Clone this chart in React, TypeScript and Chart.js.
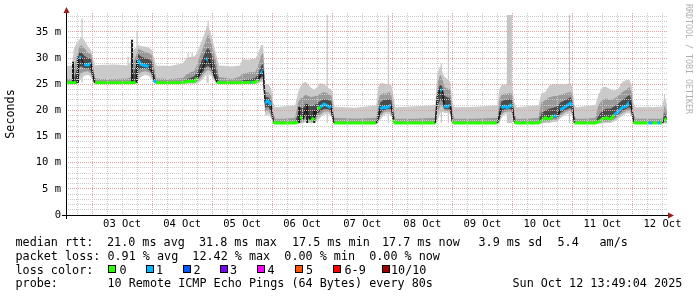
import React, { useEffect, useRef } from 'react';
import { Chart, registerables } from 'chart.js';

Chart.register(...registerables);

// x = hours since 02 Oct 00:00 ; window ends 12 Oct 13:49
const X_MIN = 13.6;
const X_MAX = 253.8;
const Y_MAX = 38.63;

const DAY_LABELS = ['03 Oct', '04 Oct', '05 Oct', '06 Oct', '07 Oct', '08 Oct', '09 Oct', '10 Oct', '11 Oct', '12 Oct'];

const T = [
  13.6, 16.0, 16.8, 18.0, 18.8, 19.6, 20.8, 22.4, 23.6, 24.4,
  25.2, 27.2, 33.0, 38.4, 39.6, 40.4, 41.6, 42.4, 43.6, 45.2,
  46.8, 48.0, 48.8, 49.6, 55.2, 60.4, 61.6, 63.2, 64.8, 66.0,
  67.2, 68.4, 69.6, 70.4, 71.6, 72.4, 73.2, 74.0, 74.8, 80.0,
  83.2, 84.0, 87.2, 87.6, 89.2, 90.4, 91.6, 92.4, 93.2, 94.4,
  95.6, 96.4, 97.2, 101.2, 105.2, 106.4, 107.2, 108.4, 109.2, 110.4,
  111.6, 112.8, 114.0, 115.2, 116.8, 118.4, 119.6, 120.0, 120.8, 129.2,
  137.6, 138.4, 139.2, 140.4, 141.6, 142.8, 143.6, 144.4, 145.2, 153.2,
  161.2, 162.0, 163.2, 164.0, 164.8, 166.0, 167.2, 168.0, 168.8, 177.2,
  186.0, 186.8, 187.6, 188.8, 190.0, 191.2, 192.0, 192.8, 193.6, 198.0,
  202.4, 203.6, 205.2, 206.8, 208.4, 210.0, 211.2, 213.2, 215.2, 216.0,
  216.8, 217.6, 221.0, 225.2, 226.4, 228.0, 229.6, 231.2, 232.8, 234.4,
  236.0, 237.6, 238.8, 239.6, 240.4, 241.2, 246.0, 246.4, 248.0, 250.0,
  251.2, 252.0, 252.8, 253.8,
];

// median rtt (ms)
const MEDIAN = [
  25.3, 25.3, 25.3, 25.3, 30.2, 30.0, 28.8, 28.7, 29.0, 26.5,
  25.3, 25.3, 25.3, 25.3, 25.3, 25.3, 25.4, 29.6, 28.8, 28.6,
  28.4, 27.4, 25.8, 25.3, 25.3, 25.3, 25.5, 25.6, 25.5, 26.2,
  27.2, 28.3, 29.6, 30.0, 28.8, 27.4, 26.2, 25.4, 25.3, 25.3,
  25.3, 25.3, 25.4, 25.4, 25.4, 25.8, 27.0, 27.6, 21.5, 21.8,
  21.0, 17.8, 17.6, 17.6, 17.6, 17.8, 18.8, 18.3, 20.1, 19.0,
  18.0, 18.6, 20.3, 20.6, 21.2, 20.8, 20.5, 19.2, 17.6, 17.6,
  17.6, 18.5, 20.3, 20.6, 20.5, 20.8, 21.0, 18.2, 17.6, 17.6,
  17.6, 22.6, 23.9, 23.8, 20.9, 20.7, 21.0, 17.8, 17.6, 17.6,
  17.6, 19.0, 20.5, 20.8, 20.5, 21.0, 20.7, 17.8, 17.6, 17.6,
  17.6, 18.0, 18.6, 18.3, 19.0, 18.9, 20.1, 20.7, 21.4, 20.8,
  17.6, 17.6, 17.6, 17.6, 17.8, 18.4, 18.6, 18.3, 19.2, 19.8,
  20.6, 20.8, 21.6, 20.8, 17.8, 17.6, 17.6, 17.6, 17.6, 17.6,
  17.6, 17.6, 18.5, 17.9,
];

// lost pings out of 10
const LOSS = [
  0, 0, 0, 0, 1, 1, 1, 1, 1, 1,
  0, 0, 0, 0, 0, 0, 0, 1, 1, 1,
  1, 1, 1, 0, 0, 0, 0, 0, 0, 1,
  1, 1, 1, 1, 1, 1, 0, 0, 0, 0,
  0, 0, 1, 0, 0, 0, 1, 1, 1, 1,
  1, 0, 0, 0, 0, 0, 0, 0, 1, 0,
  0, 0, 0, 1, 1, 1, 1, 1, 0, 0,
  0, 0, 1, 1, 1, 1, 1, 0, 0, 0,
  0, 0, 1, 1, 1, 1, 1, 0, 0, 0,
  0, 0, 1, 1, 1, 1, 1, 0, 0, 0,
  0, 0, 0, 0, 1, 1, 1, 1, 1, 1,
  0, 0, 0, 0, 0, 0, 0, 0, 1, 1,
  1, 1, 1, 1, 0, 0, 0, 1, 0, 1,
  0, 0, 0, 0,
];

// smoke: fastest / slowest ping
const PING_MIN = [
  25.1, 25.1, 25.1, 25.1, 25.5, 26.0, 26.6, 26.8, 26.4, 25.3,
  25.1, 25.1, 25.1, 25.1, 25.1, 25.1, 25.2, 25.8, 26.4, 26.8,
  26.6, 25.8, 25.2, 25.1, 25.1, 25.1, 25.1, 25.1, 25.1, 25.2,
  25.5, 26.0, 26.8, 27.0, 26.6, 25.9, 25.4, 25.1, 25.1, 25.1,
  25.1, 25.1, 25.1, 25.1, 25.1, 25.2, 25.4, 25.5, 19.0, 19.3,
  18.5, 17.4, 17.4, 17.4, 17.4, 17.4, 17.5, 17.5, 17.8, 17.7,
  17.5, 17.6, 18.0, 18.6, 19.2, 19.3, 19.0, 18.0, 17.4, 17.4,
  17.4, 17.5, 18.2, 19.0, 19.3, 19.3, 19.0, 17.5, 17.4, 17.4,
  17.4, 18.0, 19.5, 19.8, 19.5, 19.5, 19.3, 17.4, 17.4, 17.4,
  17.4, 17.5, 18.5, 19.2, 19.3, 19.2, 18.8, 17.4, 17.4, 17.4,
  17.4, 17.5, 17.6, 17.6, 17.8, 17.8, 18.5, 19.2, 19.4, 18.8,
  17.4, 17.4, 17.4, 17.4, 17.5, 17.5, 17.6, 17.6, 17.9, 18.4,
  19.0, 19.4, 19.5, 19.0, 17.4, 17.4, 17.4, 17.4, 17.4, 17.4,
  17.4, 17.4, 17.5, 17.5,
];
const PING_MAX = [
  28.5, 28.6, 32.0, 32.8, 33.5, 34.0, 33.5, 32.2, 31.5, 30.0,
  28.6, 28.7, 28.8, 28.6, 29.5, 31.5, 32.0, 32.5, 32.3, 32.2,
  32.0, 31.5, 30.0, 28.6, 28.5, 29.0, 30.0, 30.2, 30.3, 31.0,
  32.5, 34.0, 35.5, 36.5, 34.5, 33.0, 31.5, 30.0, 28.6, 28.4,
  28.6, 29.8, 29.7, 29.9, 29.8, 31.0, 32.5, 32.5, 25.0, 25.0,
  24.2, 21.5, 20.6, 20.8, 21.0, 23.5, 24.5, 25.3, 25.5, 25.0,
  24.3, 24.0, 24.5, 25.2, 25.0, 24.3, 24.0, 23.5, 20.7, 20.5,
  21.0, 24.5, 25.2, 25.2, 25.0, 25.0, 24.8, 23.0, 20.6, 20.8,
  21.0, 27.0, 28.5, 27.5, 26.5, 26.0, 25.5, 21.5, 20.6, 20.7,
  21.0, 24.0, 24.9, 24.9, 24.9, 25.0, 24.5, 21.5, 20.6, 20.8,
  21.0, 23.3, 23.5, 24.8, 25.0, 25.0, 25.0, 25.0, 25.2, 24.5,
  21.0, 20.6, 20.8, 21.0, 23.0, 24.5, 24.5, 24.0, 23.8, 24.2,
  25.5, 25.8, 25.8, 25.0, 21.5, 20.6, 20.7, 20.7, 20.6, 20.7,
  20.7, 20.8, 23.0, 21.0,
];
// smoke: 2nd fastest / 2nd slowest
const PING_LO2 = [
  25.2, 25.2, 25.2, 25.3, 26.5, 27.0, 27.4, 27.5, 27.0, 25.5,
  25.2, 25.2, 25.2, 25.2, 25.2, 25.2, 25.4, 26.8, 27.3, 27.5,
  27.3, 26.5, 25.4, 25.2, 25.2, 25.2, 25.3, 25.3, 25.3, 25.5,
  26.0, 26.8, 27.5, 27.8, 27.4, 26.5, 25.8, 25.2, 25.2, 25.2,
  25.2, 25.2, 25.2, 25.2, 25.3, 25.4, 25.8, 26.0, 19.8, 20.0,
  19.2, 17.5, 17.5, 17.5, 17.5, 17.6, 17.8, 17.8, 18.3, 18.2,
  17.9, 18.0, 18.6, 19.2, 19.8, 19.8, 19.5, 18.5, 17.5, 17.5,
  17.5, 17.8, 18.8, 19.6, 19.8, 19.8, 19.6, 17.7, 17.5, 17.5,
  17.5, 19.5, 20.8, 20.8, 20.0, 19.9, 19.8, 17.5, 17.5, 17.5,
  17.5, 17.8, 19.2, 19.7, 19.8, 19.8, 19.4, 17.5, 17.5, 17.5,
  17.5, 17.7, 17.9, 17.9, 18.2, 18.2, 19.0, 19.7, 20.0, 19.3,
  17.5, 17.5, 17.5, 17.5, 17.6, 17.8, 17.9, 17.9, 18.3, 18.9,
  19.5, 19.9, 20.0, 19.5, 17.5, 17.5, 17.5, 17.5, 17.5, 17.5,
  17.5, 17.5, 17.8, 17.6,
];
const PING_HI2 = [
  26.0, 26.0, 28.0, 30.5, 32.0, 32.5, 32.0, 31.0, 30.8, 28.5,
  26.2, 26.0, 26.0, 26.1, 26.5, 29.0, 30.5, 31.8, 31.5, 31.2,
  31.0, 30.5, 28.5, 26.1, 26.0, 26.2, 26.8, 27.3, 27.5, 28.8,
  30.5, 32.0, 33.5, 34.5, 33.0, 31.5, 30.0, 28.5, 26.4, 26.0,
  26.5, 27.0, 27.3, 27.3, 27.3, 28.5, 30.5, 31.0, 23.5, 23.5,
  22.8, 19.5, 18.4, 18.4, 18.6, 21.5, 22.3, 22.5, 23.0, 22.8,
  22.5, 22.7, 22.8, 23.2, 23.5, 23.2, 22.8, 22.0, 18.6, 18.4,
  18.6, 22.0, 23.0, 23.3, 23.2, 23.5, 23.0, 21.0, 18.4, 18.4,
  18.6, 25.0, 26.8, 26.0, 24.5, 24.2, 24.0, 19.5, 18.4, 18.4,
  18.6, 22.0, 23.0, 23.2, 23.2, 23.4, 23.0, 19.5, 18.4, 18.4,
  18.6, 21.5, 22.0, 22.5, 22.7, 22.8, 23.0, 23.3, 23.5, 23.0,
  18.8, 18.4, 18.4, 18.6, 21.0, 22.0, 22.3, 22.0, 22.3, 22.8,
  23.5, 24.0, 24.5, 23.5, 19.5, 18.4, 18.4, 18.4, 18.4, 18.4,
  18.4, 18.4, 21.0, 19.5,
];
// smoke: inner pings around the median
const PING_LO3 = [
  25.3, 25.3, 25.3, 25.6, 28.0, 28.5, 28.0, 28.0, 27.6, 25.8,
  25.3, 25.3, 25.3, 25.3, 25.3, 25.4, 26.0, 27.8, 28.0, 28.0,
  27.8, 27.0, 25.6, 25.3, 25.3, 25.3, 25.4, 25.5, 25.5, 25.8,
  26.6, 27.4, 28.3, 28.5, 28.0, 27.0, 26.0, 25.3, 25.3, 25.3,
  25.3, 25.3, 25.4, 25.4, 25.5, 25.7, 26.3, 26.6, 20.5, 20.7,
  19.8, 17.6, 17.6, 17.6, 17.6, 17.8, 18.2, 18.2, 19.0, 18.8,
  18.3, 18.5, 19.3, 19.8, 20.3, 20.2, 20.0, 18.9, 17.6, 17.6,
  17.6, 18.1, 19.4, 20.0, 20.2, 20.3, 20.2, 17.9, 17.6, 17.6,
  17.6, 20.8, 22.0, 21.8, 20.3, 20.2, 20.2, 17.7, 17.6, 17.6,
  17.6, 18.2, 19.7, 20.2, 20.2, 20.3, 19.9, 17.7, 17.6, 17.6,
  17.6, 17.9, 18.2, 18.2, 18.6, 18.6, 19.5, 20.1, 20.5, 19.8,
  17.6, 17.6, 17.6, 17.6, 17.8, 18.1, 18.3, 18.2, 18.7, 19.3,
  20.0, 20.3, 20.6, 20.0, 17.7, 17.6, 17.6, 17.6, 17.6, 17.6,
  17.6, 17.6, 18.2, 17.8,
];
const PING_HI3 = [
  25.4, 25.4, 26.0, 28.0, 31.0, 31.2, 30.5, 30.0, 30.0, 27.5,
  25.6, 25.4, 25.4, 25.4, 25.5, 27.0, 28.5, 30.8, 30.3, 30.0,
  29.8, 29.3, 27.0, 25.5, 25.4, 25.5, 25.9, 26.2, 26.5, 27.3,
  28.8, 30.2, 31.5, 32.0, 31.0, 30.0, 28.5, 26.8, 25.6, 25.4,
  25.5, 25.7, 26.0, 26.0, 26.2, 27.0, 28.5, 29.0, 22.5, 22.5,
  21.8, 18.5, 17.7, 17.7, 17.8, 19.5, 20.5, 20.5, 21.3, 21.0,
  20.8, 21.0, 21.3, 21.8, 22.2, 22.0, 21.8, 21.0, 17.8, 17.7,
  17.8, 20.0, 21.5, 22.0, 22.0, 22.2, 22.0, 19.5, 17.7, 17.7,
  17.8, 23.5, 25.0, 24.5, 22.8, 22.5, 22.3, 18.5, 17.7, 17.7,
  17.8, 20.0, 21.7, 22.0, 22.0, 22.3, 21.8, 18.5, 17.7, 17.7,
  17.8, 19.5, 20.0, 20.3, 20.5, 20.8, 21.5, 22.0, 22.5, 21.8,
  17.9, 17.7, 17.7, 17.8, 19.0, 20.0, 20.3, 20.3, 20.8, 21.3,
  22.0, 22.5, 23.0, 22.0, 18.5, 17.7, 17.7, 17.7, 17.7, 17.7,
  17.7, 17.7, 19.5, 18.5,
];

// isolated slow pings (thin light spikes)
const SPIKE_T = [18.0, 20.0, 38.4, 42.0, 62.4, 64.0, 70.0, 70.4, 118.0, 142.4, 163.6, 166.4, 214.8, 252.8];
const SPIKE_LO = [25.3, 25.3, 25.3, 25.3, 25.3, 25.3, 25.3, 25.3, 17.6, 17.6, 17.6, 17.6, 17.6, 17.6];
const SPIKE_HI = [32.9, 37.6, 30.3, 35.0, 31.0, 31.0, 36.0, 37.2, 38.3, 38.2, 29.0, 37.3, 38.25, 23.0];
const WIDE_SPIKE_T = [190.8];
const WIDE_SPIKE_LO = [17.6];
const WIDE_SPIKE_HI = [38.25];
// short median jumps (dark bars)
const JUMP_T = [16.4, 18.4, 40.0, 42.0, 106.8, 110.0, 112.8];
const JUMP_LO = [25.3, 25.3, 25.3, 25.3, 17.6, 17.6, 17.6];
const JUMP_HI = [29.3, 30.3, 33.5, 29.6, 20.7, 21.2, 20.0];

const LOSS_COLORS = ['#26ff00', '#00b8ff', '#0059ff', '#7e00ff', '#ff00ff', '#ff5500', '#ff0000', '#a10000'];
const LOSS_LABELS = ['0', '1', '2', '3', '4', '5', '6-9', '10/10'];

const RTT_TEXT = ['median rtt:', '21.0 ms avg', '31.8 ms max', '17.5 ms min', '17.7 ms now', '3.9 ms sd', '5.4', 'am/s'];
const LOSS_TEXT = 'packet loss: 0.91 % avg  12.42 % max  0.00 % min  0.00 % now';
const PROBE_TEXT = 'probe:       10 Remote ICMP Echo Pings (64 Bytes) every 80s';
const DATE_TEXT = 'Sun Oct 12 13:49:04 2025';
const WATERMARK = 'RRDTOOL / TOBI OETIKER';

const MONO = "'DejaVu Sans Mono', 'Liberation Mono', monospace";
const MAJOR_GRID = '#e3a0a0';
const MINOR_GRID = '#cbcbcb';

const axesPlugin = {
  id: 'rrdAxes',
  afterDraw(chart: any) {
    const { ctx, chartArea: a } = chart;
    ctx.save();
    ctx.strokeStyle = '#000';
    ctx.lineWidth = 1;
    ctx.beginPath();
    ctx.moveTo(a.left - 4, Math.round(a.bottom) + 0.5);
    ctx.lineTo(a.right + 2, Math.round(a.bottom) + 0.5);
    ctx.moveTo(Math.round(a.left) + 0.5, a.bottom + 4);
    ctx.lineTo(Math.round(a.left) + 0.5, a.top - 2);
    ctx.stroke();
    ctx.fillStyle = '#9b1c1c';
    const by = Math.round(a.bottom) + 0.5;
    ctx.beginPath();
    ctx.moveTo(a.right + 7, by);
    ctx.lineTo(a.right + 1, by - 3);
    ctx.lineTo(a.right + 1, by + 3);
    ctx.closePath();
    ctx.fill();
    const lx = Math.round(a.left) + 0.5;
    ctx.beginPath();
    ctx.moveTo(lx, a.top - 6);
    ctx.lineTo(lx - 3, a.top);
    ctx.lineTo(lx + 3, a.top);
    ctx.closePath();
    ctx.fill();
    ctx.restore();
  },
};

export default function App() {
  const ref = useRef<HTMLCanvasElement>(null);

  useEffect(() => {
    const canvas = ref.current;
    if (!canvas) return;
    const pts = (ys: number[]) => T.map((t, i) => ({ x: t, y: ys[i] }));
    const vlines = (ts: number[], lo: number[], hi: number[]) =>
      ts.flatMap((t, i) => [{ x: t, y: lo[i] }, { x: t, y: hi[i] }, { x: t, y: null }]);
    const hidden = { borderWidth: 0, borderColor: 'rgba(0,0,0,0)', pointRadius: 0, fill: false };

    const xTicks: number[] = [];
    for (let v = 18; v <= 252; v += 6) xTicks.push(v);
    const yTicks: number[] = [];
    for (let v = 0; v <= 38; v += 1) yTicks.push(v);

    const steep = (c: any) =>
      Math.abs(c.p1.y - c.p0.y) > Math.max(4, 1.5 * Math.abs(c.p1.x - c.p0.x));

    const chart = new Chart(canvas, {
      type: 'line',
      data: {
        datasets: [
          { data: pts(PING_MIN), ...hidden, order: 29 } as any,
          { data: pts(PING_MAX), borderWidth: 0, borderColor: 'rgba(0,0,0,0)', pointRadius: 0, fill: '-1', backgroundColor: '#cacaca', order: 28 },
          { data: pts(PING_LO2), ...hidden, order: 27 },
          { data: pts(PING_HI2), borderWidth: 0, borderColor: 'rgba(0,0,0,0)', pointRadius: 0, fill: '-1', backgroundColor: '#9a9a9a', order: 26 },
          { data: pts(PING_LO3), ...hidden, order: 25 },
          { data: pts(PING_HI3), borderWidth: 0, borderColor: 'rgba(0,0,0,0)', pointRadius: 0, fill: '-1', backgroundColor: '#4a4a4a', order: 24 },
          { data: vlines(SPIKE_T, SPIKE_LO, SPIKE_HI), borderWidth: 1, borderColor: '#bcbcbc', pointRadius: 0, spanGaps: false, order: 30 },
          { data: vlines(WIDE_SPIKE_T, WIDE_SPIKE_LO, WIDE_SPIKE_HI), borderWidth: 5, borderColor: '#c4c4c4', pointRadius: 0, spanGaps: false, borderCapStyle: 'butt', order: 30 },
          { data: vlines(JUMP_T, JUMP_LO, JUMP_HI), borderWidth: 2, borderColor: '#1c1c1c', pointRadius: 0, spanGaps: false, order: 23 },
          {
            data: pts(MEDIAN),
            pointRadius: 0,
            borderWidth: 3,
            borderColor: LOSS_COLORS[0],
            borderCapStyle: 'butt',
            borderJoinStyle: 'miter',
            order: 22,
            segment: {
              borderColor: (c: any) => (steep(c) ? '#1c1c1c' : LOSS_COLORS[LOSS[c.p0DataIndex]]),
              borderWidth: (c: any) => (steep(c) ? 1.5 : 3),
            },
          } as any,
        ] as any,
      },
      options: {
        animation: false,
        responsive: false,
        events: [],
        layout: { padding: { left: 0, right: 30, top: 13, bottom: 0 } },
        elements: { line: { tension: 0 } },
        plugins: { legend: { display: false }, tooltip: { enabled: false } },
        scales: {
          x: {
            type: 'linear',
            min: X_MIN,
            max: X_MAX,
            offset: false,
            afterBuildTicks: (s: any) => {
              s.ticks = xTicks.map((v) => ({ value: v }));
            },
            afterFit: (s: any) => {
              s.height = 82;
            },
            grid: {
              z: 1,
              drawTicks: false,
              lineWidth: 1,
              color: (c: any) => (c.tick && c.tick.value % 24 === 0 ? MAJOR_GRID : MINOR_GRID),
            },
            border: { display: false, dash: [1, 1] },
            ticks: {
              autoSkip: false,
              maxRotation: 0,
              minRotation: 0,
              padding: 3,
              color: '#000',
              font: { family: MONO, size: 10.5 },
              callback: (v: any) => {
                const n = Number(v);
                return n % 24 === 12 ? DAY_LABELS[(n - 36) / 24] ?? '' : '';
              },
            },
          },
          y: {
            type: 'linear',
            min: 0,
            max: Y_MAX,
            stacked: false,
            afterBuildTicks: (s: any) => {
              s.ticks = yTicks.map((v) => ({ value: v }));
            },
            afterFit: (s: any) => {
              s.width = 66;
            },
            grid: {
              z: 1,
              drawTicks: false,
              lineWidth: 1,
              color: (c: any) => (c.tick && c.tick.value % 5 === 0 ? MAJOR_GRID : MINOR_GRID),
            },
            border: { display: false, dash: [1, 1] },
            ticks: {
              autoSkip: false,
              padding: 5,
              color: '#000',
              font: { family: MONO, size: 10.5 },
              callback: (v: any) => {
                const n = Number(v);
                if (n % 5 !== 0) return '';
                return n === 0 ? '0' : `${n} m`;
              },
            },
            title: {
              display: true,
              text: 'Seconds',
              color: '#000',
              font: { family: MONO, size: 11.75 },
              padding: { top: 4, bottom: 0 },
            },
          },
        },
      } as any,
      plugins: [axesPlugin],
    });
    return () => chart.destroy();
  }, []);

  const text: React.CSSProperties = {
    position: 'absolute',
    fontFamily: MONO,
    fontSize: '11.75px',
    lineHeight: '14px',
    whiteSpace: 'pre',
    color: '#000',
  };
  const rttX = [15.5, 107, 199, 292, 382, 478.5, 557.5, 599.5];
  const boxX = [108, 145.5, 182.5, 219.5, 257, 295, 332.5, 381.5];
  const labX = [119.5, 156, 193.5, 230, 267.5, 306, 344.5, 391];

  return (
    <div style={{ position: 'fixed', left: 0, top: 0, width: 697, height: 297, background: '#fff', overflow: 'hidden' }}>
      <canvas ref={ref} width={697} height={297} style={{ position: 'absolute', left: 0, top: 0, width: 697, height: 297 }} />
      {RTT_TEXT.map((s, i) => (
        <div key={'r' + i} style={{ ...text, left: rttX[i], top: 234.5 }}>{s}</div>
      ))}
      <div style={{ ...text, left: 15.5, top: 248.5 }}>{LOSS_TEXT}</div>
      <div style={{ ...text, left: 15.5, top: 262.5 }}>loss color:</div>
      {LOSS_COLORS.map((c, i) => (
        <React.Fragment key={'l' + i}>
          <div style={{ position: 'absolute', left: boxX[i], top: 265, width: 8, height: 8, boxSizing: 'border-box', border: '1px solid #000', background: c }} />
          <div style={{ ...text, left: labX[i], top: 262.5 }}>{LOSS_LABELS[i]}</div>
        </React.Fragment>
      ))}
      <div style={{ ...text, left: 15.5, top: 275.5 }}>{PROBE_TEXT}</div>
      <div style={{ ...text, left: 512.5, top: 275.5 }}>{DATE_TEXT}</div>
      <div
        style={{
          position: 'absolute',
          left: 684,
          top: 4,
          writingMode: 'vertical-rl',
          fontFamily: MONO,
          fontSize: '8.3px',
          lineHeight: '9px',
          color: '#b0b0b0',
          whiteSpace: 'pre',
        }}
      >
        {WATERMARK}
      </div>
    </div>
  );
}
